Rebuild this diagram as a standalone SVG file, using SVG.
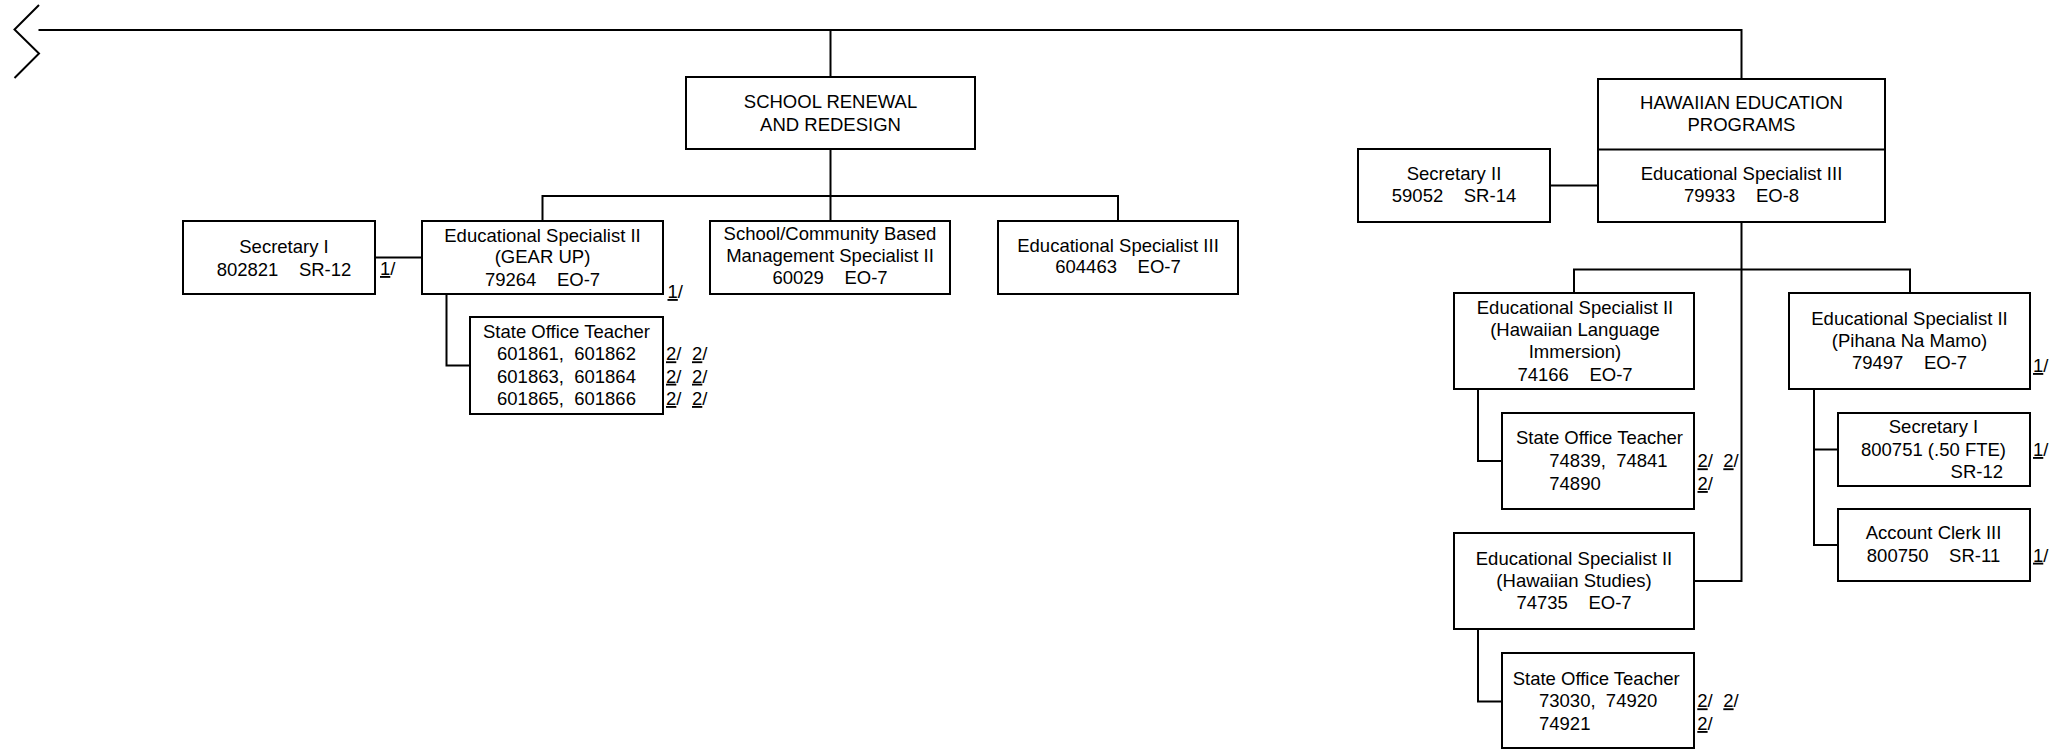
<svg xmlns="http://www.w3.org/2000/svg" width="2054" height="749" viewBox="0 0 2054 749">
<style>
.box{fill:#fff;stroke:#000;stroke-width:2}
.ln{fill:none;stroke:#000;stroke-width:2}
text{font-family:"Liberation Sans",Arial,sans-serif;font-size:18.5px;fill:#000}
.c{text-anchor:middle}
.e{text-anchor:end}
.u{text-decoration:underline}
</style>
<rect width="2054" height="749" fill="#fff"/>
<g id="connectors">
<polyline class="ln" points="39,5 14.5,29.5 39,53.5 14.5,78"/>
<path class="ln" d="M38.5 30 H1741.5 V79"/>
<path class="ln" d="M830.5 30 V77"/>
<path class="ln" d="M830.5 149 V221"/>
<path class="ln" d="M542.5 221 V196 H1118 V221"/>
<path class="ln" d="M375 257.5 H422"/>
<path class="ln" d="M446.5 294 V365.5 H470"/>
<path class="ln" d="M1550 185.5 H1598"/>
<path class="ln" d="M1741.5 222 V581 H1694"/>
<path class="ln" d="M1574 293 V269.5 H1910 V293"/>
<path class="ln" d="M1478 389 V461 H1502"/>
<path class="ln" d="M1478 629 V701.5 H1502"/>
<path class="ln" d="M1814 389 V545 H1838"/>
<path class="ln" d="M1814 449.5 H1838"/>
</g>
<g id="sec1-left">
<rect class="box" x="183" y="221" width="192" height="73"/>
<text class="c" x="284" y="252.7">Secretary I</text>
<text class="c" x="284" y="276" xml:space="preserve">802821    SR-12</text>
<text x="380" y="275"><tspan class="u">1</tspan>/</text>
</g>
<g id="gearup">
<rect class="box" x="422" y="221" width="241" height="73"/>
<text class="c" x="542.5" y="241.7">Educational Specialist II</text>
<text class="c" x="542.5" y="263.3">(GEAR UP)</text>
<text class="c" x="542.5" y="286" xml:space="preserve">79264    EO-7</text>
<text x="667.5" y="298"><tspan class="u">1</tspan>/</text>
</g>
<g id="sot-left">
<rect class="box" x="470" y="317" width="193" height="97"/>
<text class="c" x="566.5" y="338.3">State Office Teacher</text>
<text class="c" x="566.5" y="360.3" xml:space="preserve">601861,  601862</text>
<text class="c" x="566.5" y="382.7" xml:space="preserve">601863,  601864</text>
<text class="c" x="566.5" y="405" xml:space="preserve">601865,  601866</text>
<text x="666" y="360.3"><tspan class="u">2</tspan>/</text>
<text x="692" y="360.3"><tspan class="u">2</tspan>/</text>
<text x="666" y="382.7"><tspan class="u">2</tspan>/</text>
<text x="692" y="382.7"><tspan class="u">2</tspan>/</text>
<text x="666" y="405"><tspan class="u">2</tspan>/</text>
<text x="692" y="405"><tspan class="u">2</tspan>/</text>
</g>
<g id="school">
<rect class="box" x="686" y="77" width="289" height="72"/>
<text class="c" x="830.5" y="108.3">SCHOOL RENEWAL</text>
<text class="c" x="830.5" y="131">AND REDESIGN</text>
</g>
<g id="sbm">
<rect class="box" x="710" y="221" width="240" height="73"/>
<text class="c" x="830" y="240">School/Community Based</text>
<text class="c" x="830" y="262.3">Management Specialist II</text>
<text class="c" x="830" y="284" xml:space="preserve">60029    EO-7</text>
</g>
<g id="es3">
<rect class="box" x="998" y="221" width="240" height="73"/>
<text class="c" x="1118" y="251.7">Educational Specialist III</text>
<text class="c" x="1118" y="273.3" xml:space="preserve">604463    EO-7</text>
</g>
<g id="hawaiian">
<rect class="box" x="1598" y="79" width="287" height="143"/>
<path class="ln" d="M1598 149.5 H1885"/>
<text class="c" x="1741.5" y="109">HAWAIIAN EDUCATION</text>
<text class="c" x="1741.5" y="130.7">PROGRAMS</text>
<text class="c" x="1741.5" y="180">Educational Specialist III</text>
<text class="c" x="1741.5" y="201.7" xml:space="preserve">79933    EO-8</text>
</g>
<g id="sec2">
<rect class="box" x="1358" y="149" width="192" height="73"/>
<text class="c" x="1454" y="180">Secretary II</text>
<text class="c" x="1454" y="201.7" xml:space="preserve">59052    SR-14</text>
</g>
<g id="lang">
<rect class="box" x="1454" y="293" width="240" height="96"/>
<text class="c" x="1575" y="314">Educational Specialist II</text>
<text class="c" x="1575" y="335.7">(Hawaiian Language</text>
<text class="c" x="1575" y="358.3">Immersion)</text>
<text class="c" x="1575" y="380.7" xml:space="preserve">74166    EO-7</text>
</g>
<g id="sot-lang">
<rect class="box" x="1502" y="413" width="192" height="96"/>
<text x="1516" y="444.3">State Office Teacher</text>
<text x="1549.3" y="467.3" xml:space="preserve">74839,  74841</text>
<text x="1549.3" y="490">74890</text>
<text x="1697.5" y="467.3"><tspan class="u">2</tspan>/</text>
<text x="1723.3" y="467.3"><tspan class="u">2</tspan>/</text>
<text x="1697.5" y="490"><tspan class="u">2</tspan>/</text>
</g>
<g id="hs">
<rect class="box" x="1454" y="533" width="240" height="96"/>
<text class="c" x="1574" y="565">Educational Specialist II</text>
<text class="c" x="1574" y="587.3">(Hawaiian Studies)</text>
<text class="c" x="1574" y="609" xml:space="preserve">74735    EO-7</text>
</g>
<g id="sot-hs">
<rect class="box" x="1502" y="653" width="192" height="95"/>
<text x="1512.7" y="685">State Office Teacher</text>
<text x="1539" y="707.3" xml:space="preserve">73030,  74920</text>
<text x="1539" y="730">74921</text>
<text x="1697.3" y="707.3"><tspan class="u">2</tspan>/</text>
<text x="1723.3" y="707.3"><tspan class="u">2</tspan>/</text>
<text x="1697.3" y="730"><tspan class="u">2</tspan>/</text>
</g>
<g id="pihana">
<rect class="box" x="1789" y="293" width="241" height="96"/>
<text class="c" x="1909.5" y="325">Educational Specialist II</text>
<text class="c" x="1909.5" y="346.7">(Pihana Na Mamo)</text>
<text class="c" x="1909.5" y="369.3" xml:space="preserve">79497    EO-7</text>
<text x="2033" y="372"><tspan class="u">1</tspan>/</text>
</g>
<g id="sec1-right">
<rect class="box" x="1838" y="413" width="192" height="73"/>
<text class="c" x="1933.5" y="433.3">Secretary I</text>
<text class="c" x="1933.5" y="456">800751 (.50 FTE)</text>
<text class="e" x="2003" y="477.7">SR-12</text>
<text x="2033" y="456"><tspan class="u">1</tspan>/</text>
</g>
<g id="acct">
<rect class="box" x="1838" y="509" width="192" height="72"/>
<text class="c" x="1933.5" y="539.3">Account Clerk III</text>
<text class="c" x="1933.5" y="561.7" xml:space="preserve">800750    SR-11</text>
<text x="2033" y="561.7"><tspan class="u">1</tspan>/</text>
</g>
</svg>
